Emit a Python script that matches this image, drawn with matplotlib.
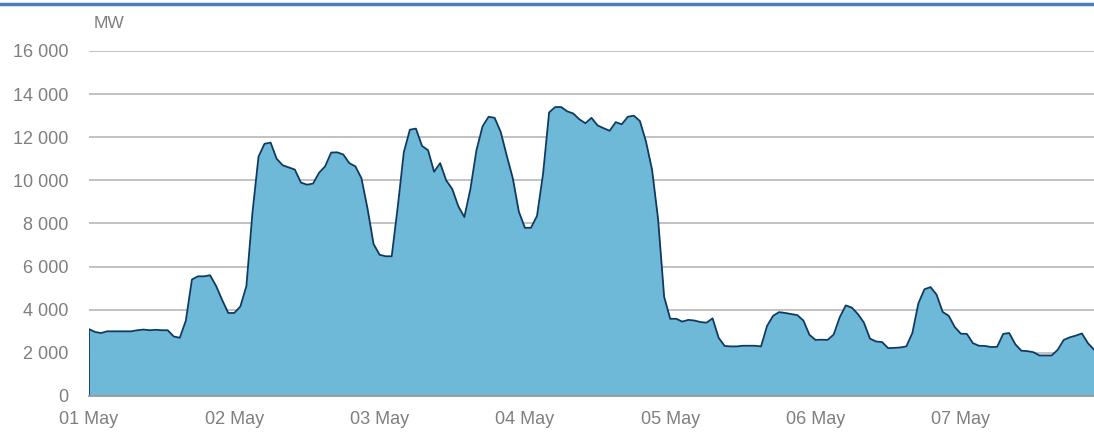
import numpy as np
import matplotlib
matplotlib.use("Agg")
import matplotlib.pyplot as plt
from matplotlib.lines import Line2D

# Hourly load values (MW), one list per day
day1 = [3100, 2970, 2920, 3000, 3000, 3000, 3000, 3000, 3050, 3080, 3050, 3070,
        3050, 3050, 2760, 2700, 3500, 5400, 5550, 5550, 5600, 5100, 4450, 3850]
day2 = [3850, 4150, 5100, 8500, 11100, 11700, 11750, 11000, 10700, 10600, 10500, 9900,
        9800, 9850, 10350, 10650, 11290, 11300, 11200, 10800, 10650, 10100, 8700, 7050]
day3 = [6550, 6480, 6480, 8770, 11300, 12350, 12400, 11600, 11400, 10400, 10800, 10000,
        9600, 8800, 8300, 9600, 11400, 12500, 12950, 12900, 12250, 11150, 10100, 8550]
day4 = [7800, 7800, 8350, 10300, 13150, 13400, 13400, 13200, 13100, 12830, 12650, 12900,
        12550, 12420, 12300, 12700, 12600, 12950, 13000, 12750, 11800, 10500, 8200, 4600]
day5 = [3580, 3580, 3450, 3530, 3500, 3430, 3400, 3600, 2700, 2320, 2300, 2300,
        2330, 2330, 2330, 2300, 3250, 3720, 3890, 3850, 3800, 3750, 3500, 2840]
day6 = [2600, 2610, 2600, 2850, 3650, 4200, 4100, 3800, 3400, 2660, 2530, 2500,
        2220, 2230, 2250, 2300, 2920, 4300, 4950, 5050, 4700, 3900, 3720, 3200]
day7 = [2890, 2880, 2450, 2330, 2320, 2270, 2280, 2880, 2920, 2400, 2100, 2080,
        2030, 1880, 1880, 1880, 2140, 2600, 2720, 2800, 2900, 2450, 2150]

day_labels = ["01 May", "02 May", "03 May", "04 May", "05 May", "06 May", "07 May"]
y_ticks = [0, 2000, 4000, 6000, 8000, 10000, 12000, 14000, 16000]
unit_label = "MW"

values = np.array(day1 + day2 + day3 + day4 + day5 + day6 + day7, dtype=float)
hours = np.arange(len(values))

plt.rcParams['font.family'] = ['Liberation Sans', 'DejaVu Sans']

W, H = 1094, 434
fig = plt.figure(figsize=(W / 100, H / 100), dpi=100)
ax = fig.add_axes([89 / W, (H - 396) / H, 1 - 89 / W, (396 - 51) / H])

fill_col = '#6FB9D8'
line_col = '#0E3A62'
grid_col = '#BDBDBD'
text_col = '#7F7F7F'

ax.fill_between(hours, 0, values, color=fill_col, linewidth=0, zorder=2)
ax.plot(np.r_[hours[0], hours], np.r_[0, values], color=line_col, lw=1.3, zorder=3)

ax.set_xlim(0, len(values) - 1)
ax.set_ylim(0, 16000)
ax.set_yticks(y_ticks)
ax.set_yticklabels([f"{v:,}".replace(",", " ") for v in y_ticks])
ax.set_xticks(np.arange(len(day_labels)) * 24)
ax.set_xticklabels(day_labels)

ax.grid(axis='y', color=grid_col, lw=1.3, zorder=1)
ax.set_axisbelow(True)
for s in ['top', 'right', 'left']:
    ax.spines[s].set_visible(False)
ax.spines['bottom'].set_color('#9A9A9A')
ax.spines['bottom'].set_linewidth(1.3)
ax.spines['bottom'].set_zorder(4)

ax.tick_params(axis='both', length=0, labelsize=13, labelcolor=text_col)
ax.tick_params(axis='y', pad=15)
ax.tick_params(axis='x', pad=11)

fig.text(94 / W, 1 - 23 / H, unit_label, fontsize=12.5, color=text_col,
         ha='left', va='center')

fig.add_artist(Line2D([0, 1], [1 - 3.5 / H, 1 - 3.5 / H], transform=fig.transFigure,
                      color='#4A7EBB', lw=2.5))

fig.savefig("out.png", dpi=100)
